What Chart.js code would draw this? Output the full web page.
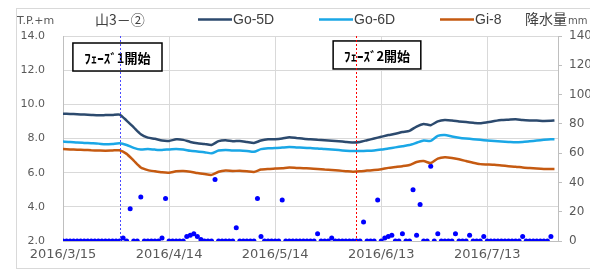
<!DOCTYPE html>
<html><head><meta charset="utf-8">
<script src="https://cdn.jsdelivr.net/npm/chart.js@4.4.1/dist/chart.umd.min.js"></script>
<style>
html,body{margin:0;padding:0;background:#fff;}
#wrap{position:relative;width:590px;height:271px;overflow:hidden;}
#frame{position:absolute;left:16px;top:8px;width:600px;height:261px;border:1px solid #D9D9D9;box-sizing:border-box;}
canvas{position:absolute;left:0;top:0;}
</style></head><body>
<div id="wrap"><div id="frame"></div><canvas id="c" width="590" height="271"></canvas></div>
<script>
// ---- data ----
const xTickDays   = [0, 30, 60, 90, 120];
const xTickLabels = ['2016/3/15', '2016/4/14', '2016/5/14', '2016/6/13', '2016/7/13'];

const levelDays = [0,2,4,6,8,10,12,14,16,18,20,22,24,26,28,30,32,34,36,38,40,42,44,46,48,50,52,54,56,58,60,62,64,66,68,70,72,74,76,78,80,82,84,86,88,90,92,94,96,98,100,102,104,106,108,110,112,114,116,118,120,122,124,126,128,130,132,134,136,138,139];
const go5d = [9.45,9.44,9.42,9.40,9.38,9.36,9.37,9.38,9.40,9.05,8.65,8.25,8.05,7.98,7.88,7.86,7.95,7.92,7.80,7.72,7.68,7.62,7.85,7.90,7.84,7.86,7.80,7.74,7.88,7.95,7.96,8.00,8.07,8.03,7.98,7.95,7.92,7.90,7.87,7.84,7.80,7.77,7.80,7.90,8.00,8.10,8.20,8.28,8.38,8.45,8.70,8.85,8.78,9.00,9.08,9.05,9.00,8.96,8.92,8.89,8.95,9.02,9.08,9.10,9.12,9.08,9.06,9.05,9.03,9.04,9.05];
const go6d = [7.82,7.80,7.76,7.74,7.72,7.70,7.66,7.68,7.72,7.62,7.45,7.35,7.38,7.35,7.33,7.36,7.38,7.35,7.28,7.24,7.20,7.13,7.30,7.33,7.30,7.30,7.27,7.22,7.38,7.43,7.44,7.47,7.50,7.48,7.46,7.44,7.42,7.38,7.35,7.32,7.29,7.27,7.27,7.28,7.30,7.35,7.42,7.48,7.55,7.62,7.75,7.88,7.86,8.15,8.20,8.12,8.05,8.00,7.96,7.92,7.88,7.85,7.82,7.80,7.78,7.80,7.84,7.88,7.92,7.95,7.95];
const gi8  = [7.38,7.36,7.34,7.33,7.31,7.30,7.29,7.30,7.31,7.10,6.70,6.30,6.15,6.08,6.02,6.00,6.08,6.10,6.06,5.98,5.92,5.87,6.05,6.12,6.10,6.11,6.08,6.04,6.18,6.22,6.24,6.26,6.30,6.28,6.26,6.25,6.22,6.18,6.15,6.12,6.09,6.06,6.08,6.12,6.15,6.20,6.28,6.33,6.38,6.45,6.62,6.68,6.56,6.82,6.90,6.86,6.78,6.68,6.58,6.50,6.48,6.46,6.42,6.38,6.35,6.30,6.27,6.24,6.22,6.22,6.22];

// daily rainfall (mm) from 2016/3/15
const rainMm = [
 0,0,0,0,0,0,0,0,0,0,
 0,0,0,0,0,0,0,2,0,22,
 0,0,30,0,0,0,0,0,2,29,
 0,0,0,0,0,3,4,5,3,1,
 0,0,0,42,0,0,0,0,0,9,
 0,0,0,0,0,29,3,0,0,0,
 0,0,28,0,0,0,0,0,0,0,
 0,0,5,0,0,0,2,0,0,0,
 0,0,0,0,0,13,0,0,0,28,
 0,2,3,4,0,0,5,0,0,35,
 4,25,0,0,51,0,5,0,0,0,
 0,5,0,0,0,4,0,0,0,3,
 0,0,0,0,0,0,0,0,0,0,
 3,0,0,0,0,0,0,0,3
];

const seriesNames  = ['Go-5D', 'Go-6D', 'Gi-8'];
const seriesColors = ['#2C4A6E', '#1AA7E6', '#C55A11'];
const phaseDays    = [16, 83];
const phaseLabels  = ['ﾌｪｰｽﾞ1開始', 'ﾌｪｰｽﾞ2開始'];

// ---- chart ----
const levelSets = [go5d, go6d, gi8].map((arr, i) => ({
  type: 'line',
  label: seriesNames[i],
  data: arr.map((v, k) => ({x: levelDays[k], y: v})),
  borderColor: seriesColors[i],
  backgroundColor: seriesColors[i],
  borderWidth: 2.5,
  pointRadius: 0,
  tension: 0.2,
  yAxisID: 'y',
  order: 1
}));

const rainSet = {
  type: 'scatter',
  label: '降水量',
  data: rainMm.map((v, k) => ({x: k, y: v})),
  backgroundColor: '#0000FF',
  borderWidth: 0,
  pointRadius: 2.5,
  yAxisID: 'y2',
  order: 2
};

const annot = {
  id: 'annot',
  afterDatasetsDraw(chart) {
    const ctx = chart.ctx, xs = chart.scales.x, ys = chart.scales.y, ca = chart.chartArea;
    const boxes = [
      {l: 2.8, r: 28.0, t: 13.59, b: 11.95},
      {l: 76.4, r: 101.2, t: 13.71, b: 12.07}
    ];
    ctx.save();
    boxes.forEach((bx, i) => {
      const l = xs.getPixelForValue(bx.l), r = xs.getPixelForValue(bx.r);
      const t = ys.getPixelForValue(bx.t), b = ys.getPixelForValue(bx.b);
      ctx.fillStyle = '#fff';
      ctx.fillRect(l, t, r - l, b - t);
      ctx.strokeStyle = '#000';
      ctx.lineWidth = 1.5;
      ctx.strokeRect(l, t, r - l, b - t);
      ctx.fillStyle = '#000';
      ctx.font = 'bold 13px "Noto Sans CJK JP"';
      ctx.textAlign = 'center';
      ctx.textBaseline = 'middle';
      ctx.fillText(phaseLabels[i], (l + r) / 2, (t + b) / 2 + 1);
    });
    const cols = ['#4A4AFF', '#FF0000'];
    phaseDays.forEach((d, i) => {
      const x = Math.round(xs.getPixelForValue(d)) + 0.5;
      ctx.strokeStyle = cols[i];
      ctx.lineWidth = 1;
      ctx.setLineDash([2, 2]);
      ctx.beginPath();
      ctx.moveTo(x, ca.top);
      ctx.lineTo(x, ca.bottom);
      ctx.stroke();
    });
    ctx.restore();
  },
  afterDraw(chart) {
    const ctx = chart.ctx;
    ctx.save();
    ctx.textBaseline = 'middle';
    ctx.textAlign = 'left';
    ctx.fillStyle = '#595959';
    ctx.font = '11px "DejaVu Sans"';
    ctx.fillText('T.P.+m', 17, 21);
    ctx.fillStyle = '#404040';
    ctx.font = '14px "Noto Sans CJK JP"';
    ctx.fillText('山3－②', 95, 20);
    // legend
    const lx = [198, 319, 440];
    seriesNames.forEach((n, i) => {
      ctx.strokeStyle = seriesColors[i];
      ctx.lineWidth = 2.5;
      ctx.beginPath();
      ctx.moveTo(lx[i], 19.5);
      ctx.lineTo(lx[i] + 34, 19.5);
      ctx.stroke();
      ctx.fillStyle = '#404040';
      ctx.font = '14px "Liberation Sans"';
      ctx.fillText(n, lx[i] + 35, 20);
    });
    ctx.fillStyle = '#404040';
    ctx.font = '14px "Noto Sans CJK JP"';
    ctx.fillText('降水量', 525, 19);
    ctx.font = '10px "DejaVu Sans"';
    ctx.fillStyle = '#595959';
    ctx.fillText('mm', 568, 21);
    ctx.restore();
  }
};

new Chart(document.getElementById('c'), {
  data: {datasets: [...levelSets, rainSet]},
  options: {
    responsive: false,
    animation: false,
    devicePixelRatio: 1,
    layout: {padding: {top: 36, left: 0, right: 0, bottom: 0}},
    plugins: {legend: {display: false}, tooltip: {enabled: false}},
    scales: {
      x: {
        type: 'linear', min: 0, max: 140,
        afterBuildTicks: s => { s.ticks = xTickDays.map(v => ({value: v})); },
        afterFit: s => { s.height = 30; },
        ticks: {
          autoSkip: false, maxRotation: 0, padding: 6, color: '#595959',
          font: {family: 'DejaVu Sans', size: 13},
          callback: v => xTickLabels[xTickDays.indexOf(v)]
        },
        grid: {color: '#D9D9D9', drawTicks: false},
        border: {color: '#BFBFBF'}
      },
      y: {
        position: 'left', min: 2, max: 14,
        afterFit: s => { s.width = 63; },
        ticks: {stepSize: 2, padding: 18, color: '#595959', font: {family: 'DejaVu Sans', size: 11},
          callback: v => v.toFixed(1)},
        grid: {color: '#D9D9D9', drawTicks: false},
        border: {color: '#BFBFBF'}
      },
      y2: {
        position: 'right', min: 0, max: 140,
        afterFit: s => { s.width = 32; },
        ticks: {stepSize: 20, padding: 7, color: '#595959', font: {family: 'DejaVu Sans', size: 12}},
        grid: {drawOnChartArea: false, drawTicks: true, tickLength: 4, color: '#BFBFBF'},
        border: {color: '#BFBFBF'}
      }
    }
  },
  plugins: [annot]
});
</script>
</body></html>
